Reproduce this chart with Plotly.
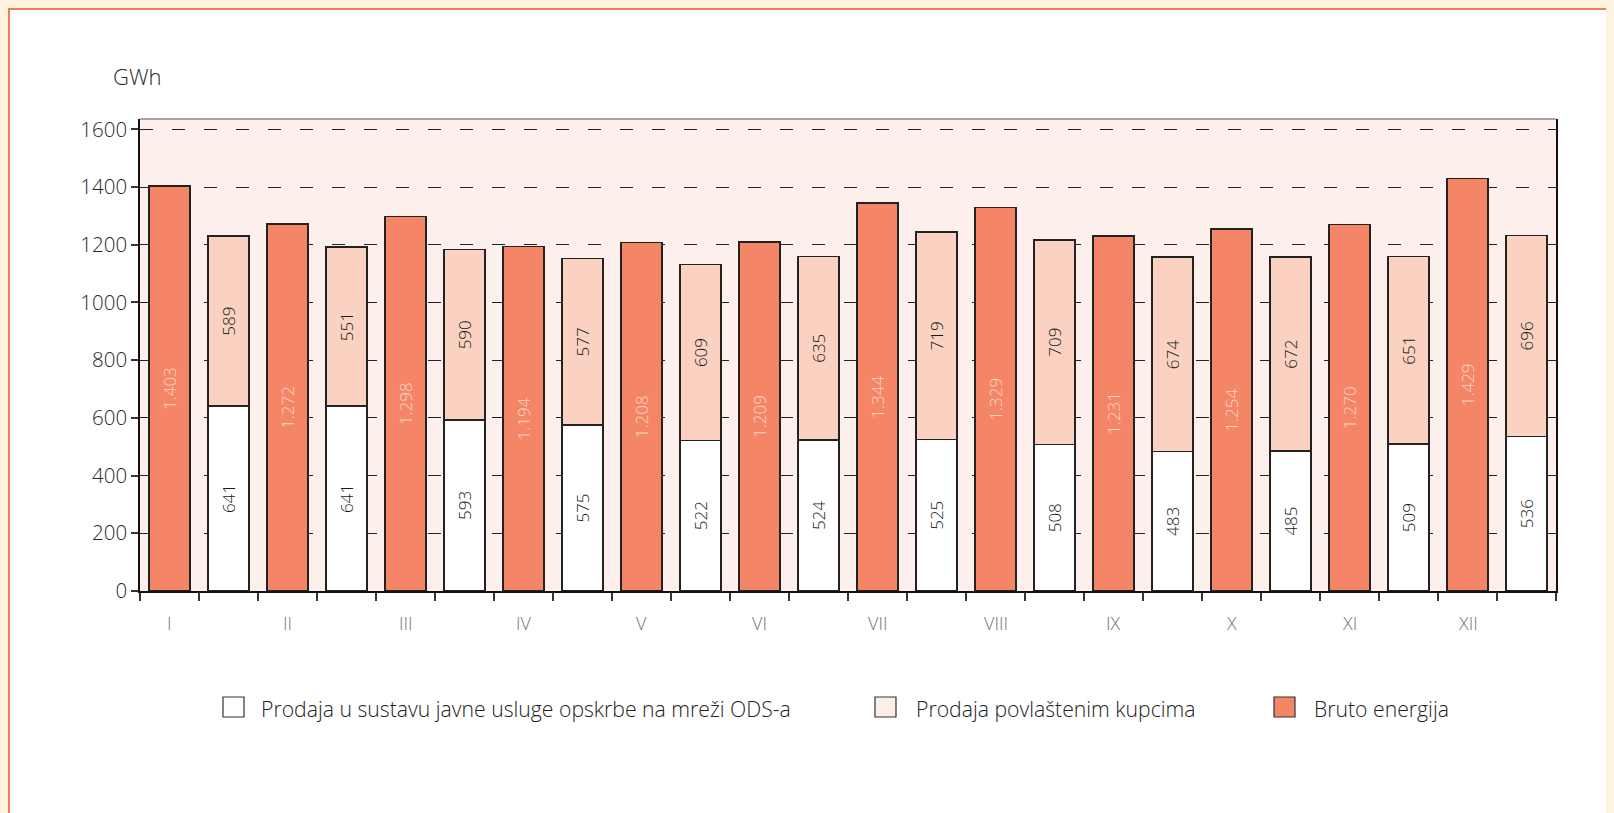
import plotly.graph_objects as go

months = ["I", "II", "III", "IV", "V", "VI", "VII", "VIII", "IX", "X", "XI", "XII"]
bruto = [1403, 1272, 1298, 1194, 1208, 1209, 1344, 1329, 1231, 1254, 1270, 1429]
ods = [641, 641, 593, 575, 522, 524, 525, 508, 483, 485, 509, 536]
povl = [589, 551, 590, 577, 609, 635, 719, 709, 674, 672, 651, 696]
legend_names = ["Prodaja u sustavu javne usluge opskrbe na mreži ODS-a",
                "Prodaja povlaštenim kupcima", "Bruto energija"]

# The page body has an 8px margin; the figure starts at page (8, 8).
OFF = 8
W, H = 1614, 813
L, R, T, B = 140 - OFF, 1556 - OFF, 119 - OFF, 591 - OFF
PW, PH = R - L, B - T

def px2x(px):  # page pixel -> paper x
    return (px - OFF - L) / PW

def py2y(py):  # page pixel -> paper y
    return (B - (py - OFF)) / PH

C_BRUTO = "#F48667"
C_PEACH = "#FBD2C1"
C_PLOTBG = "#FDEFEB"
C_CREAM = "#FFF2DE"
C_BORDER = "#F47A5C"
MAIN = "Open Sans, Noto Sans, sans-serif"

x_bruto = [2 * i for i in range(len(months))]
x_stack = [2 * i + 1 for i in range(len(months))]
line = dict(color="#222222", width=1.5)

fig = go.Figure()
fig.add_trace(go.Bar(
    x=x_bruto, y=bruto, width=0.7, name=legend_names[2],
    marker=dict(color=C_BRUTO, line=line),
    text=[f"{v:,}".replace(",", ".") for v in bruto],
    textposition="inside", insidetextanchor="middle", textangle=-90,
    textfont=dict(family=MAIN, size=17, color="#FDD5C6", weight=300),
    showlegend=False, hoverinfo="skip"))
fig.add_trace(go.Bar(
    x=x_stack, y=ods, width=0.7, name=legend_names[0],
    marker=dict(color="#FFFFFF", line=line),
    text=[str(v) for v in ods],
    textposition="inside", insidetextanchor="middle", textangle=-90,
    textfont=dict(family=MAIN, size=17, color="#1A1A1A", weight=300),
    showlegend=False, hoverinfo="skip"))
fig.add_trace(go.Bar(
    x=x_stack, y=povl, width=0.7, name=legend_names[1],
    marker=dict(color=C_PEACH, line=line),
    text=[str(v) for v in povl],
    textposition="inside", insidetextanchor="middle", textangle=-90,
    textfont=dict(family=MAIN, size=17, color="#1A1A1A", weight=300),
    showlegend=False, hoverinfo="skip"))

n_slots = 2 * len(months)
fig.update_layout(
    width=W, height=H,
    margin=dict(l=L, r=W - R, t=T, b=H - B, pad=0),
    barmode="stack",
    paper_bgcolor="#FFFFFF",
    plot_bgcolor=C_PLOTBG,
    showlegend=False,
    font=dict(family=MAIN, color="#333333"),
    xaxis=dict(
        range=[-0.5, n_slots - 0.5],
        tickvals=[k - 0.5 for k in range(n_slots + 1)],
        showticklabels=False, ticks="outside", ticklen=8, tickwidth=1.5,
        tickcolor="#333333", showgrid=False, zeroline=False,
        showline=True, linecolor="#111111", linewidth=2, fixedrange=True),
    yaxis=dict(
        range=[0, 1636], tickvals=list(range(0, 1601, 200)),
        ticks="outside", ticklen=7, tickwidth=1.5, tickcolor="#333333",
        tickfont=dict(family=MAIN, size=20.5, color="#2A2A2A", weight=300),
        showgrid=True, gridcolor="#222222", gridwidth=1.3, griddash="13px,19px",
        zeroline=False, showline=True, linecolor="#111111", linewidth=1.5,
        mirror=True, fixedrange=True),
)

shapes = []
# top frame line of plot area
shapes.append(dict(type="line", xref="paper", yref="paper", x0=0, x1=1, y0=1, y1=1,
                   line=dict(color="#555555", width=1.2)))
# salmon border along the top and left edges of the white panel
shapes.append(dict(type="line", xref="paper", yref="paper", x0=px2x(OFF), x1=px2x(1630),
                   y0=py2y(OFF + 1), y1=py2y(OFF + 1), line=dict(color=C_BORDER, width=2)))
shapes.append(dict(type="line", xref="paper", yref="paper", x0=px2x(OFF + 1), x1=px2x(OFF + 1),
                   y0=py2y(830), y1=py2y(OFF), line=dict(color=C_BORDER, width=2)))

# manual legend
legend_fill = ["#FFFFFF", "#FDEEEA", C_BRUTO]
legend_sq_x = [223, 875, 1274]
legend_txt_x = [259, 914, 1312]
annotations = []
for name, fill, sx, tx in zip(legend_names, legend_fill, legend_sq_x, legend_txt_x):
    shapes.append(dict(type="rect", xref="paper", yref="paper",
                       x0=px2x(sx), x1=px2x(sx + 21), y0=py2y(717), y1=py2y(697),
                       fillcolor=fill, line=dict(color="#333333", width=1.2)))
    annotations.append(dict(xref="paper", yref="paper", x=px2x(tx), y=py2y(708),
                            xanchor="left", yanchor="middle", text=name, showarrow=False,
                            font=dict(family=MAIN, size=21.2, color="#222222", weight=300)))

# month labels under the Bruto bars
for m, xb in zip(months, x_bruto):
    annotations.append(dict(xref="x", yref="paper", x=xb, y=py2y(623),
                            xanchor="center", yanchor="middle", text=m, showarrow=False,
                            font=dict(family=MAIN, size=18, color="#777777", weight=300)))

# unit label
annotations.append(dict(xref="paper", yref="paper", x=px2x(137), y=py2y(76),
                        xanchor="center", yanchor="middle", text="GWh", showarrow=False,
                        font=dict(family=MAIN, size=22, color="#2A2A2A", weight=300)))

fig.update_layout(shapes=shapes, annotations=annotations)
fig.write_html(
    "out.html",
    post_script=("document.body.style.background='" + C_CREAM + "';"
                 "document.body.style.overflow='hidden';"
                 "document.documentElement.style.overflow='hidden';"))
